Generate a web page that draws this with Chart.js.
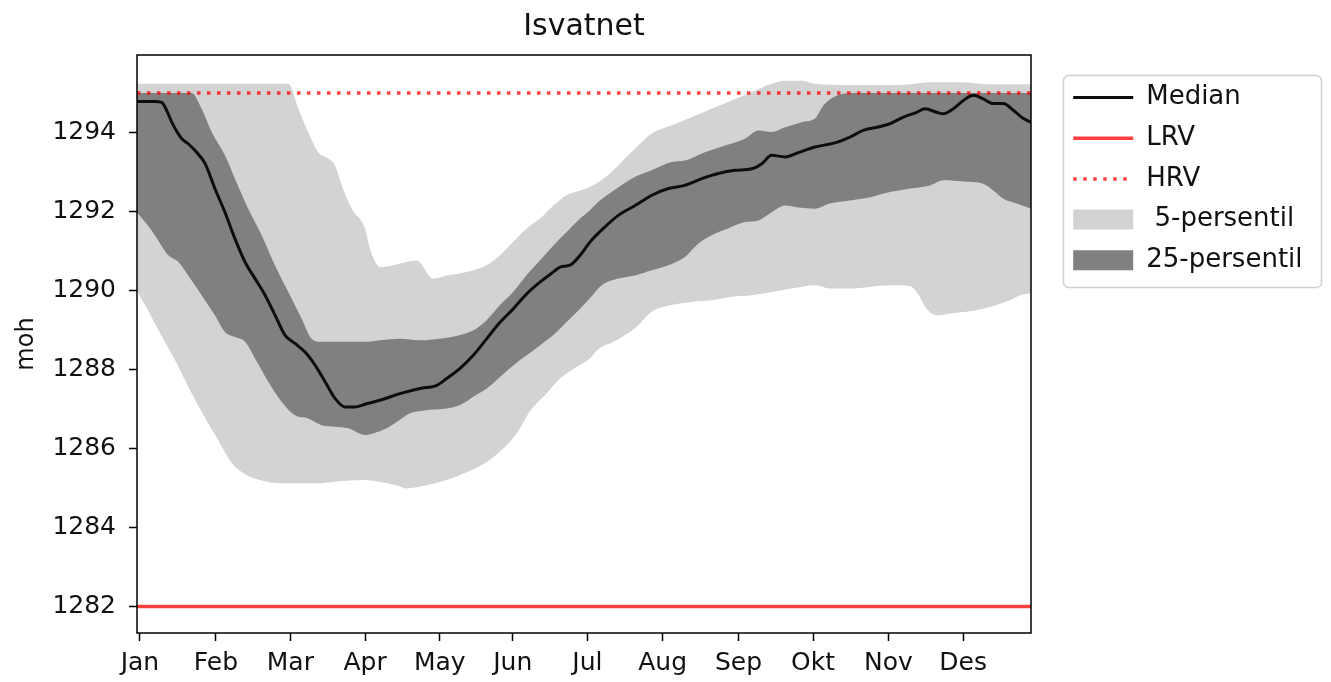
<!DOCTYPE html>
<html>
<head>
<meta charset="utf-8">
<title>Isvatnet</title>
<script src="https://cdn.jsdelivr.net/npm/chart.js@4/dist/chart.umd.min.js"></script>
<style>
  html, body { margin: 0; padding: 0; background: #ffffff; }
  canvas { display: block; }
</style>
</head>
<body>
<canvas id="chart" width="1331" height="682"></canvas>
<script>
// Month ticks (day of year) and their labels
const MONTHS = ['Jan', 'Feb', 'Mar', 'Apr', 'May', 'Jun', 'Jul', 'Aug', 'Sep', 'Okt', 'Nov', 'Des'];
const MONTH_TICK_DAYS = [1.2, 32.2, 62.6, 93.1, 123.6, 153.4, 183.9, 214.6, 245.6, 276.0, 306.8, 337.3];
const LEVEL_TICKS = [1282, 1284, 1286, 1288, 1290, 1292, 1294];

// Regulation limits (moh)
const LRV = 1282;
const HRV = 1295;

// Median water level
const MEDIAN_DAYS = [0, 7.3, 10.1, 12.1, 14.2, 16.2, 18.3, 20.8, 23.7, 27.8, 31.8, 35.9, 40.0, 44.1, 48.2, 52.3, 56.4, 60.4, 64.5,
  68.6, 72.7, 76.8, 80.8, 84.9, 89.0, 93.1, 99.2, 107.4, 115.5, 122.4, 126.4, 131.9, 137.3, 142.8, 148.3, 153.7, 159.2, 164.5, 170.0,
  172.7, 176.8, 180.9, 185.0, 191.1, 196.5, 203.4, 210.2, 217.0, 223.7, 230.6, 237.3, 244.2, 251.0, 255.1, 259.1, 264.6, 270.0, 276.8, 285.7,
  291.1, 296.5, 302.0, 307.4, 312.9, 318.3, 321.7, 326.5, 329.2, 333.3, 337.4, 341.5, 345.5, 349.6, 353.7, 357.8, 361.9, 365];
const MEDIAN_LEVEL = [1294.78, 1294.78, 1294.76, 1294.56, 1294.26, 1294.03, 1293.84, 1293.72, 1293.54, 1293.21, 1292.58, 1291.98, 1291.31, 1290.72, 1290.30, 1289.88, 1289.37, 1288.87, 1288.66,
  1288.44, 1288.11, 1287.69, 1287.27, 1287.05, 1287.05, 1287.12, 1287.22, 1287.39, 1287.52, 1287.60, 1287.77, 1288.03, 1288.36, 1288.78, 1289.20, 1289.54, 1289.92, 1290.21, 1290.47,
  1290.59, 1290.64, 1290.89, 1291.23, 1291.61, 1291.90, 1292.15, 1292.41, 1292.58, 1292.66, 1292.83, 1292.96, 1293.04, 1293.08, 1293.21, 1293.42, 1293.38, 1293.49, 1293.63, 1293.75,
  1293.88, 1294.05, 1294.13, 1294.22, 1294.39, 1294.51, 1294.60, 1294.51, 1294.47, 1294.60, 1294.81, 1294.94, 1294.85, 1294.73, 1294.73, 1294.56, 1294.35, 1294.26];

// 75th percentile
const P75_DAYS = [0, 22.3, 26.4, 30.5, 35.9, 40.0, 45.4, 50.9, 56.3, 61.8, 67.2, 71.3, 75.4, 93.1, 99.2, 107.4, 115.5, 123.7, 131.9, 138.7,
  142.8, 148.2, 153.6, 159.1, 164.5, 170.0, 175.4, 180.9, 184.9, 188.3, 193.8, 202.0, 210.1, 218.3, 223.7, 231.9, 240.1, 248.2, 253.7, 259.1,
  264.6, 271.4, 276.8, 280.2, 284.3, 288.4, 292, 365];
const P75_LEVEL = [1295.0, 1295.0, 1294.60, 1294.01, 1293.42, 1292.83, 1292.07, 1291.40, 1290.64, 1289.96, 1289.29, 1288.78, 1288.70, 1288.70, 1288.74, 1288.78, 1288.74, 1288.78, 1288.87, 1289.04,
  1289.25, 1289.63, 1289.96, 1290.39, 1290.76, 1291.14, 1291.48, 1291.82, 1292.03, 1292.24, 1292.49, 1292.83, 1293.04, 1293.25, 1293.29, 1293.50, 1293.67, 1293.84, 1294.05, 1294.01,
  1294.13, 1294.26, 1294.35, 1294.68, 1294.89, 1294.98, 1295.0, 1295.0];

// 25th percentile
const P25_DAYS = [0, 3.3, 7.3, 12.8, 16.9, 20.9, 26.4, 31.8, 35.9, 40.0, 44.1, 48.2, 53.6, 59.1, 64.5, 69.9, 75.4, 80.8, 86.3, 93.1,
  96.5, 101.9, 106.0, 111.5, 118.3, 126.4, 131.9, 137.3, 142.8, 148.2, 153.7, 159.1, 164.5, 170.0, 175.4, 180.9, 184.9, 189.7, 196.5, 203.3,
  210.1, 216.9, 223.7, 229.2, 234.6, 241.4, 248.2, 253.7, 259.1, 264.6, 270.0, 276.8, 282.9, 291.1, 299.3, 307.4, 315.6, 323.8, 329.2, 337.4,
  345.5, 349.6, 353.7, 359.2, 365];
const P25_LEVEL = [1291.98, 1291.73, 1291.40, 1290.89, 1290.72, 1290.38, 1289.88, 1289.37, 1288.95, 1288.82, 1288.70, 1288.28, 1287.69, 1287.18, 1286.84, 1286.76, 1286.59, 1286.55, 1286.51, 1286.34,
  1286.38, 1286.51, 1286.67, 1286.89, 1286.97, 1287.01, 1287.10, 1287.31, 1287.52, 1287.81, 1288.11, 1288.36, 1288.61, 1288.87, 1289.20, 1289.54, 1289.80, 1290.13, 1290.30, 1290.38,
  1290.51, 1290.64, 1290.85, 1291.19, 1291.40, 1291.57, 1291.73, 1291.77, 1291.98, 1292.15, 1292.10, 1292.07, 1292.20, 1292.28, 1292.36, 1292.49, 1292.58, 1292.66, 1292.79, 1292.76,
  1292.70, 1292.53, 1292.32, 1292.20, 1292.07];

// 95th percentile
const P95_DAYS = [0, 61.8, 65.9, 69.9, 74.0, 78.1, 80.8, 83.6, 87.7, 93.1, 95.1, 99.2, 104.6, 114.2, 121.0, 126.4, 134.6, 142.8, 148.2, 153.6,
  159.1, 164.5, 170.0, 175.4, 180.9, 184.9, 188.3, 193.8, 199.2, 204.7, 210.1, 218.3, 226.5, 234.6, 242.8, 251.0, 259.1, 264.6, 271.4, 276.8,
  291.1, 311.5, 323.8, 336.0, 348.3, 365];
const P95_LEVEL = [1295.23, 1295.23, 1294.60, 1294.01, 1293.50, 1293.34, 1293.17, 1292.66, 1292.07, 1291.57, 1291.06, 1290.59, 1290.64, 1290.76, 1290.30, 1290.38, 1290.47, 1290.64, 1290.89, 1291.23,
  1291.57, 1291.82, 1292.15, 1292.41, 1292.53, 1292.62, 1292.74, 1293.00, 1293.34, 1293.67, 1293.97, 1294.18, 1294.39, 1294.60, 1294.81, 1295.02, 1295.23, 1295.31, 1295.31, 1295.23,
  1295.20, 1295.20, 1295.27, 1295.27, 1295.22, 1295.22];

// 5th percentile
const P5_DAYS = [0, 3.3, 9.4, 15.5, 21.6, 27.8, 33.2, 38.7, 44.1, 50.2, 58.4, 72.7, 80.8, 93.1, 99.2, 106.0, 110.1, 118.3, 126.4, 134.6,
  142.8, 149.6, 155.0, 160.5, 167.3, 172.7, 179.5, 184.9, 188.3, 195.8, 204.0, 210.1, 218.3, 226.5, 234.6, 242.8, 251.0, 259.1, 267.3, 276.8,
  282.9, 291.1, 299.3, 307.4, 315.6, 318.3, 322.4, 326.5, 331.9, 338.7, 345.5, 351.0, 356.4, 360.5, 365];
const P5_LEVEL = [1289.98, 1289.63, 1288.92, 1288.24, 1287.48, 1286.77, 1286.21, 1285.63, 1285.35, 1285.20, 1285.12, 1285.12, 1285.16, 1285.20, 1285.15, 1285.07, 1284.99, 1285.07, 1285.20, 1285.40,
  1285.66, 1286.00, 1286.38, 1286.95, 1287.40, 1287.77, 1288.07, 1288.28, 1288.51, 1288.74, 1289.08, 1289.46, 1289.63, 1289.71, 1289.75, 1289.84, 1289.88, 1289.96, 1290.05, 1290.13,
  1290.05, 1290.05, 1290.09, 1290.13, 1290.11, 1289.96, 1289.54, 1289.37, 1289.42, 1289.46, 1289.54, 1289.63, 1289.75, 1289.88, 1289.93];

// Styling
const TEXT = '#111111';
const MEDIAN_COLOR = '#0d0d0d';
const LIMIT_RED = 'rgba(255, 0, 0, 0.75)';
const BAND_LIGHT = '#d3d3d3';
const BAND_DARK = '#808080';
const HRV_DASH = [3.5, 6.5];

const toPoints = (days, vals) => days.map((d, i) => ({ x: d, y: vals[i] }));

Chart.defaults.font.family = "'DejaVu Sans', 'Liberation Sans', sans-serif";
Chart.defaults.color = TEXT;

// Keep the legend column a fixed width and place it beside the axes
const legendPlacement = {
  id: 'legendPlacement',
  beforeLayout(chart) {
    const lg = chart.legend;
    if (lg && !lg._fixedWidth) {
      const fit = lg.fit;
      lg.fit = function () { fit.call(this); this.width = 300; };
      lg._fixedWidth = true;
    }
  },
  afterLayout(chart) {
    const lg = chart.legend;
    if (lg) { lg.left = 1058.5; lg.top = 69.8; }
  },
  beforeDraw(chart) {
    // legend frame
    const ctx = chart.ctx;
    const x = 1063.5, y = 75.5, w = 258, h = 212, r = 5;
    ctx.save();
    ctx.beginPath();
    ctx.moveTo(x + r, y);
    ctx.arcTo(x + w, y, x + w, y + h, r);
    ctx.arcTo(x + w, y + h, x, y + h, r);
    ctx.arcTo(x, y + h, x, y, r);
    ctx.arcTo(x, y, x + w, y, r);
    ctx.closePath();
    ctx.fillStyle = '#ffffff';
    ctx.fill();
    ctx.lineWidth = 1.5;
    ctx.strokeStyle = '#d0d0d0';
    ctx.stroke();
    ctx.restore();
  },
  afterDatasetsDraw(chart) {
    // box around the plotting area
    const { ctx, chartArea: a } = chart;
    ctx.save();
    ctx.lineWidth = 1.5;
    ctx.strokeStyle = '#000000';
    ctx.strokeRect(a.left, a.top, a.right - a.left, a.bottom - a.top);
    ctx.restore();
  }
};

const lineDefaults = { pointRadius: 0, pointHoverRadius: 0, cubicInterpolationMode: 'monotone' };

new Chart(document.getElementById('chart'), {
  type: 'line',
  data: {
    datasets: [
      { label: 'Median', data: toPoints(MEDIAN_DAYS, MEDIAN_LEVEL), borderColor: MEDIAN_COLOR, borderWidth: 3, fill: false, ...lineDefaults },
      { label: 'LRV', data: [{ x: 0, y: LRV }, { x: 365, y: LRV }], borderColor: LIMIT_RED, borderWidth: 3.5, fill: false, ...lineDefaults },
      { label: 'HRV', data: [{ x: 0, y: HRV }, { x: 365, y: HRV }], borderColor: LIMIT_RED, borderWidth: 3.5, borderDash: HRV_DASH, fill: false, ...lineDefaults },
      { label: '25-persentil', data: toPoints(P75_DAYS, P75_LEVEL), borderColor: 'transparent', borderWidth: 0, backgroundColor: BAND_DARK, fill: '+1', ...lineDefaults },
      { label: '25-persentil nedre', data: toPoints(P25_DAYS, P25_LEVEL), borderColor: 'transparent', borderWidth: 0, fill: false, ...lineDefaults },
      { label: ' 5-persentil', data: toPoints(P95_DAYS, P95_LEVEL), borderColor: 'transparent', borderWidth: 0, backgroundColor: BAND_LIGHT, fill: '+1', ...lineDefaults },
      { label: ' 5-persentil nedre', data: toPoints(P5_DAYS, P5_LEVEL), borderColor: 'transparent', borderWidth: 0, fill: false, ...lineDefaults }
    ]
  },
  options: {
    responsive: false,
    animation: false,
    events: [],
    layout: { padding: 0 },
    scales: {
      x: {
        type: 'linear',
        min: 0,
        max: 365,
        afterBuildTicks: (axis) => { axis.ticks = MONTH_TICK_DAYS.map(v => ({ value: v })); },
        afterFit: (axis) => { axis.height = 49; },
        ticks: {
          autoSkip: false, maxRotation: 0, minRotation: 0, padding: 7,
          font: { size: 25 }, color: TEXT,
          callback: (value, index) => MONTHS[index]
        },
        grid: { display: true, drawOnChartArea: false, drawTicks: true, tickLength: 8, tickWidth: 1.5, tickColor: '#000000' },
        border: { display: false }
      },
      y: {
        type: 'linear',
        min: 1281.33,
        max: 1295.96,
        afterBuildTicks: (axis) => { axis.ticks = LEVEL_TICKS.map(v => ({ value: v })); },
        afterFit: (axis) => { axis.width = 137; },
        ticks: {
          padding: 13, font: { size: 25 }, color: TEXT,
          callback: (value) => String(value)
        },
        grid: { display: true, drawOnChartArea: false, drawTicks: true, tickLength: 8, tickWidth: 1.5, tickColor: '#000000' },
        border: { display: false },
        title: { display: true, text: 'moh', font: { size: 24 }, color: TEXT, padding: { top: 12, bottom: 0 } }
      }
    },
    plugins: {
      title: {
        display: true, text: 'Isvatnet', fullSize: false,
        font: { size: 30, weight: 'normal' }, color: TEXT,
        padding: { top: 9, bottom: 10 }
      },
      legend: {
        display: true,
        position: 'right',
        align: 'start',
        labels: {
          usePointStyle: true,
          pointStyleWidth: 60,
          boxHeight: 20,
          padding: 14.7,
          font: { size: 26 },
          color: TEXT,
          generateLabels: (chart) => {
            const ds = chart.data.datasets;
            return [
              { text: ds[0].label, datasetIndex: 0, pointStyle: 'line', strokeStyle: MEDIAN_COLOR, fillStyle: 'rgba(0,0,0,0)', lineWidth: 3, lineCap: 'butt', fontColor: TEXT, hidden: false },
              { text: ds[1].label, datasetIndex: 1, pointStyle: 'line', strokeStyle: LIMIT_RED, fillStyle: 'rgba(0,0,0,0)', lineWidth: 3.5, lineCap: 'butt', fontColor: TEXT, hidden: false },
              { text: ds[2].label, datasetIndex: 2, pointStyle: 'line', strokeStyle: LIMIT_RED, fillStyle: 'rgba(0,0,0,0)', lineWidth: 3.5, lineDash: HRV_DASH, lineCap: 'butt', fontColor: TEXT, hidden: false },
              { text: ds[5].label, datasetIndex: 5, pointStyle: 'rect', strokeStyle: BAND_LIGHT, fillStyle: BAND_LIGHT, lineWidth: 0, fontColor: TEXT, hidden: false },
              { text: ds[3].label, datasetIndex: 3, pointStyle: 'rect', strokeStyle: BAND_DARK, fillStyle: BAND_DARK, lineWidth: 0, fontColor: TEXT, hidden: false }
            ];
          }
        }
      },
      tooltip: { enabled: false }
    }
  },
  plugins: [legendPlacement]
});
</script>
</body>
</html>
